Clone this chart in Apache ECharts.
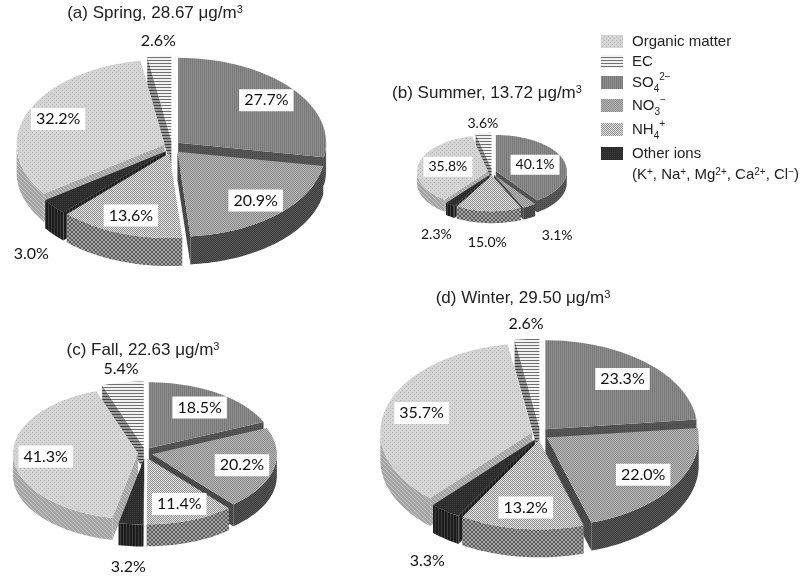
<!DOCTYPE html>
<html>
<head>
<meta charset="utf-8">
<script src="https://cdn.jsdelivr.net/npm/echarts@6/dist/echarts.min.js"></script>
<style>
  html, body { margin: 0; background: #fff; }
  #chart { width: 800px; height: 576px; }
</style>
</head>
<body>
<div id="chart"></div>
<script>
// legend order
var components = ['Organic matter', 'EC', 'SO4', 'NO3', 'NH4', 'Other ions'];
var legendText = [
  'Organic matter',
  'EC',
  'SO{sub|4}{sup|2−}',
  'NO{sub|3}{sup|−}',
  'NH{sub|4}{sup|+}',
  'Other ions'
];
var legendNote = '(K{sup|+}, Na{sup|+}, Mg{sup|2+}, Ca{sup|2+}, Cl{sup|−})';
// slices clockwise from 12 o'clock: SO4, NO3, NH4, Other ions, OM, EC
var sliceComp = [2, 3, 4, 5, 0, 1];
var seasons = ['(a) Spring', '(b) Summer', '(c) Fall', '(d) Winter'];
var totals = ['28.67', '13.72', '22.63', '29.50'];
var spring = [27.7, 20.9, 13.6, 3.0, 32.2, 2.6];
var summer = [40.1, 3.1, 15.0, 2.3, 35.8, 3.6];
var fall = [18.5, 20.2, 11.4, 3.2, 41.3, 5.4];
var winter = [23.3, 22.0, 13.2, 3.3, 35.7, 2.6];
var seasonData = [spring, summer, fall, winter];

// layout of each pie (pixels)
var pies = [
  { cx: 172, cy: 147, rx: 148, ry: 85, depth: 28, ex: 8, font: 16, inMin: 6, inR: 0.78, outR: 1.2, tx: 155, ty: 13 },
  { cx: 492, cy: 172, rx: 71, ry: 36, depth: 12, ex: 4, font: 14, inMin: 20, inR: 0.58, outR: 1.35, tx: 487, ty: 93 },
  { cx: 145, cy: 453, rx: 125, ry: 66, depth: 22, ex: 7, font: 16, inMin: 6, inR: 0.74, outR: 1.2, tx: 143, ty: 350 },
  { cx: 540, cy: 434, rx: 152, ry: 89, depth: 28, ex: 8, font: 16, inMin: 6, inR: 0.76, outR: 1.2, tx: 523, ty: 298 }
];

function pat(w, h, bg, draw) {
  var c = document.createElement('canvas');
  c.width = w; c.height = h;
  var g = c.getContext('2d');
  g.fillStyle = bg; g.fillRect(0, 0, w, h);
  draw(g);
  return { image: c, repeat: 'repeat' };
}
function px(g, col, pts) {
  g.fillStyle = col;
  for (var i = 0; i < pts.length; i += 2) g.fillRect(pts[i], pts[i + 1], 1, 1);
}

var topFill = [
  pat(4, 4, '#d4d4d4', function (g) { px(g, '#bcbcbc', [0, 0, 2, 2]); }),
  pat(1, 3, '#f2f2f2', function (g) { px(g, '#707070', [0, 0]); }),
  pat(2, 2, '#8e8e8e', function (g) { px(g, '#787878', [0, 0, 0, 1]); }),
  pat(2, 2, '#b4b4b4', function (g) { px(g, '#8c8c8c', [0, 0, 1, 1]); }),
  pat(4, 4, '#e6e6e6', function (g) { px(g, '#8a8a8a', [0, 0, 2, 0, 1, 1, 3, 1, 0, 2, 2, 2, 1, 3, 3, 3]); px(g, '#ffffff', [1, 0, 3, 2]); }),
  pat(2, 2, '#2c2c2c', function (g) { px(g, '#3a3a3a', [0, 0]); })
];
var wallFill = [
  pat(4, 4, '#a4a4a4', function (g) { px(g, '#c4c4c4', [0, 0, 1, 1, 2, 2, 3, 3]); }),
  pat(1, 3, '#9a9a9a', function (g) { px(g, '#404040', [0, 0]); }),
  pat(2, 2, '#565656', function (g) { px(g, '#484848', [0, 0]); }),
  pat(2, 2, '#3e3e3e', function (g) { px(g, '#555555', [0, 0, 1, 1]); }),
  pat(4, 4, '#a8a8a8', function (g) { px(g, '#5a5a5a', [0, 0, 1, 1, 2, 2, 3, 3, 3, 0, 2, 1, 1, 2, 0, 3]); }),
  pat(3, 1, '#1c1c1c', function (g) { px(g, '#3c3c3c', [0, 0]); })
];

function makeRender(p, values) {
  var total = values.reduce(function (a, b) { return a + b; }, 0);
  var cum = [], s = 0;
  values.forEach(function (v) { cum.push(s); s += v; });
  return function (params, api) {
    var i = params.dataIndex;
    var v = api.value(1);
    var comp = sliceComp[i];
    var a0 = cum[i] / total * 2 * Math.PI;
    var a1 = (cum[i] + v) / total * 2 * Math.PI;
    var mid = (a0 + a1) / 2;
    var ox = Math.sin(mid) * p.ex, oy = -Math.cos(mid) * p.ex * 0.8;
    var d = p.depth;
    function pt(a, r, dd) {
      var c = api.coord([Math.sin(a) * r, Math.cos(a) * r]);
      return [c[0] + ox, c[1] + oy + (dd || 0)];
    }
    function arc(lo, hi, dd) {
      var n = Math.max(2, Math.ceil((hi - lo) / 0.03));
      var out = [];
      for (var k = 0; k <= n; k++) out.push(pt(lo + (hi - lo) * k / n, 1, dd));
      return out;
    }
    var base = Math.round((1 - Math.cos(mid)) * 100) * 4;
    var children = [];
    var c0 = pt(0, 0), c0d = pt(0, 0, d);
    // radial cut faces
    if (Math.sin(a0) < 0) {
      children.push({ type: 'polygon', z2: base + 1, shape: { points: [c0, pt(a0, 1), pt(a0, 1, d), c0d] }, style: { fill: wallFill[comp] } });
    }
    if (Math.sin(a1) > 0) {
      children.push({ type: 'polygon', z2: base + 1, shape: { points: [c0, pt(a1, 1), pt(a1, 1, d), c0d] }, style: { fill: wallFill[comp] } });
    }
    // outer wall, front half only
    var lo = Math.max(a0, Math.PI / 2), hi = Math.min(a1, Math.PI * 1.5);
    if (hi > lo) {
      var up = arc(lo, hi, 0), dn = arc(lo, hi, d).reverse();
      children.push({ type: 'polygon', z2: base + 2, shape: { points: up.concat(dn) }, style: { fill: wallFill[comp] } });
    }
    // top face
    children.push({ type: 'polygon', z2: base + 3, shape: { points: [c0].concat(arc(a0, a1, 0)) }, style: { fill: topFill[comp] } });
    // label
    var txt = v.toFixed(1) + '%';
    if (v >= p.inMin) {
      var lp = pt(mid, p.inR);
      children.push({
        type: 'text', z2: 2000, x: lp[0], y: lp[1],
        style: { text: txt, fontSize: p.font, fontFamily: 'Lato', fill: '#111', align: 'center', verticalAlign: 'middle', backgroundColor: '#fff', padding: [3, 5] }
      });
    } else {
      var front = Math.cos(mid) < 0;
      var op = pt(mid, front ? p.outR : 1.08, front ? d : 0);
      children.push({
        type: 'text', z2: 2000, x: op[0], y: op[1],
        style: {
          text: txt, fontSize: p.font, fontFamily: 'Lato', fill: '#111',
          align: Math.sin(mid) > 0.3 ? 'left' : 'center',
          verticalAlign: front ? 'top' : 'bottom'
        }
      });
    }
    return { type: 'group', children: children };
  };
}

var supStyle = { fontSize: 10, verticalAlign: 'top', fill: '#222', fontFamily: 'Liberation Sans', lineHeight: 22 };
var subStyle = { fontSize: 10, verticalAlign: 'bottom', fill: '#222', fontFamily: 'Liberation Sans', lineHeight: 22 };

var grids = [], xAxes = [], yAxes = [], series = [], graphics = [];
pies.forEach(function (p, k) {
  grids.push({ left: p.cx - p.rx, top: p.cy - p.ry, width: p.rx * 2, height: p.ry * 2 });
  xAxes.push({ type: 'value', gridIndex: k, min: -1, max: 1, show: false });
  yAxes.push({ type: 'value', gridIndex: k, min: -1, max: 1, show: false });
  series.push({
    type: 'custom',
    name: seasons[k],
    xAxisIndex: k,
    yAxisIndex: k,
    silent: true,
    renderItem: makeRender(p, seasonData[k]),
    data: seasonData[k].map(function (v, i) { return [i, v]; })
  });
  graphics.push({
    type: 'text', x: p.tx, y: p.ty,
    style: {
      text: seasons[k] + ', ' + totals[k] + ' μg/m{sup|3}',
      fontSize: 17, fontFamily: 'Liberation Sans', fill: '#222', align: 'center', verticalAlign: 'middle',
      rich: { sup: { fontSize: 11, verticalAlign: 'top', fill: '#222', fontFamily: 'Liberation Sans' } }
    }
  });
});

// legend
var legendY = [42, 62, 83, 106, 130, 154];
components.forEach(function (name, i) {
  graphics.push({ type: 'rect', shape: { x: 601, y: legendY[i] - 7, width: 22, height: 13 }, style: { fill: topFill[i] } });
  graphics.push({
    type: 'text', x: 632, y: legendY[i],
    style: {
      text: legendText[i], fontSize: 15, fontFamily: 'Liberation Sans', fill: '#222', verticalAlign: 'middle',
      rich: { sub: subStyle, sup: supStyle }
    }
  });
});
graphics.push({
  type: 'text', x: 632, y: 175,
  style: {
    text: legendNote, fontSize: 15, fontFamily: 'Liberation Sans', fill: '#222', verticalAlign: 'middle',
    rich: { sup: { fontSize: 10, verticalAlign: 'top', fill: '#222', fontFamily: 'Liberation Sans' } }
  }
});

var chart = echarts.init(document.getElementById('chart'));
chart.setOption({
  animation: false,
  grid: grids,
  xAxis: xAxes,
  yAxis: yAxes,
  series: series,
  graphic: { elements: graphics }
});
</script>
</body>
</html>
